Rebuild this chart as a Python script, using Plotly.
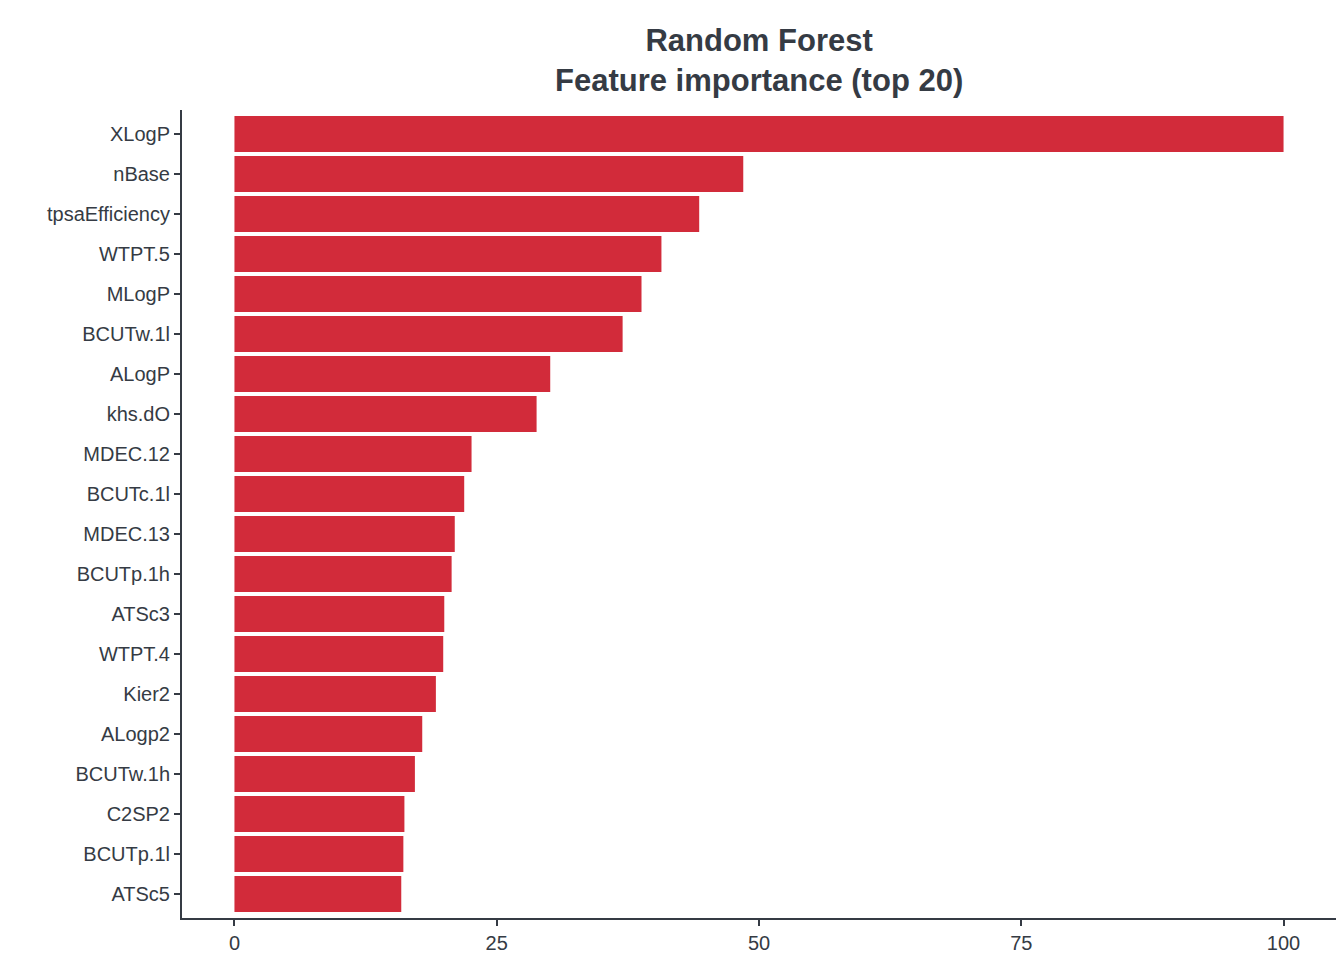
import plotly.graph_objects as go

features = ["XLogP","nBase","tpsaEfficiency","WTPT.5","MLogP","BCUTw.1l","ALogP","khs.dO",
            "MDEC.12","BCUTc.1l","MDEC.13","BCUTp.1h","ATSc3","WTPT.4","Kier2","ALogp2",
            "BCUTw.1h","C2SP2","BCUTp.1l","ATSc5"]
importance = [100,48.5,44.3,40.7,38.8,37.0,30.1,28.8,22.6,21.9,21.0,20.7,20.0,19.9,19.2,17.9,
              17.2,16.2,16.1,15.9]
tickvals = [0,25,50,75,100]

dark = "#353b44"
fig = go.Figure(go.Bar(x=importance[::-1], y=features[::-1], orientation="h",
                       marker=dict(color="#D22B3A", line=dict(width=0))))
fig.update_layout(
    width=1344, height=960, plot_bgcolor="white", paper_bgcolor="white",
    margin=dict(l=174, r=16, t=102, b=50, autoexpand=False),
    bargap=0.1, showlegend=False,
    font=dict(family="Liberation Sans, Arial", color=dark),
)
fig.add_annotation(text="<b>Random Forest<br>Feature importance (top 20)</b>",
                   xref="paper", yref="paper", x=0.5, y=1.0, yshift=10,
                   xanchor="center", yanchor="bottom", showarrow=False,
                   font=dict(size=31, color=dark))
fig.update_xaxes(range=[-5,105], tickvals=tickvals, showgrid=False, zeroline=False,
                 showline=True, linecolor=dark, linewidth=2, ticks="outside", ticklen=6,
                 tickcolor=dark, tickwidth=2, tickfont=dict(size=20, color=dark), automargin=False)
fig.update_yaxes(showgrid=False, showline=True, linecolor=dark, linewidth=2,
                 ticks="outside", ticklen=6, tickcolor=dark, tickwidth=2,
                 tickfont=dict(size=20, color=dark), range=[-0.6,19.6], automargin=False)
fig.write_html("out.html")
